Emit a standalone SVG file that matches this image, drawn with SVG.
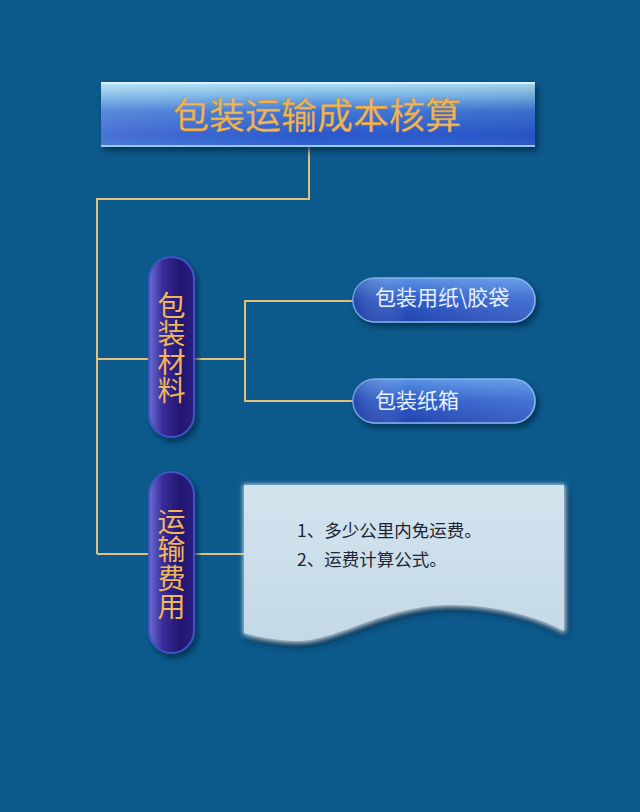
<svg xmlns="http://www.w3.org/2000/svg" width="640" height="812" viewBox="0 0 640 812">
<defs>
<style>
.cn{font-family:"Noto Sans CJK SC","Noto Sans",sans-serif;}
.gold{fill:#efb65a;}
.line{fill:none;stroke:#e2c07a;stroke-width:2;}
.vt{font-size:28px;writing-mode:vertical-rl;letter-spacing:0.5px;}
.pt{font-size:21px;fill:#e6f2ff;}
.dt{font-size:17.5px;fill:#1e2433;}
</style>
<linearGradient id="gTitle" x1="0" y1="0" x2="0" y2="1">
<stop offset="0" stop-color="#b4e2f6"/>
<stop offset="0.2" stop-color="#7ab6e6"/>
<stop offset="0.45" stop-color="#3c74d4"/>
<stop offset="0.8" stop-color="#2a58cc"/>
<stop offset="1" stop-color="#2e62d0"/>
</linearGradient>
<linearGradient id="gTitleH" x1="0" y1="0" x2="1" y2="0">
<stop offset="0" stop-color="#ffffff" stop-opacity="0.15"/>
<stop offset="0.5" stop-color="#ffffff" stop-opacity="0"/>
<stop offset="1" stop-color="#000000" stop-opacity="0.05"/>
</linearGradient>
<linearGradient id="gVert" x1="0" y1="0" x2="1" y2="0">
<stop offset="0" stop-color="#6c6ed2"/>
<stop offset="0.3" stop-color="#3a2c9a"/>
<stop offset="0.7" stop-color="#231670"/>
<stop offset="1" stop-color="#2a1e80"/>
</linearGradient>
<linearGradient id="gPill" x1="0" y1="0" x2="0" y2="1">
<stop offset="0" stop-color="#5a92e4"/>
<stop offset="0.5" stop-color="#2c5ac8"/>
<stop offset="1" stop-color="#2244b0"/>
</linearGradient>
<linearGradient id="gPillH" x1="0" y1="0" x2="1" y2="0">
<stop offset="0" stop-color="#1a2a80" stop-opacity="0.35"/>
<stop offset="0.3" stop-color="#ffffff" stop-opacity="0"/>
<stop offset="1" stop-color="#a0d0ff" stop-opacity="0.2"/>
</linearGradient>
<linearGradient id="gDoc" x1="0" y1="0" x2="0" y2="1">
<stop offset="0" stop-color="#d2e4ee"/>
<stop offset="1" stop-color="#c4d9e6"/>
</linearGradient>
<filter id="shadow" x="-10%" y="-20%" width="125%" height="150%">
<feGaussianBlur in="SourceAlpha" stdDeviation="3"/>
<feOffset dx="3" dy="4" result="b"/>
<feFlood flood-color="#022a48" flood-opacity="0.8"/>
<feComposite in2="b" operator="in"/>
<feMerge><feMergeNode/><feMergeNode in="SourceGraphic"/></feMerge>
</filter>
<filter id="glow" x="-10%" y="-10%" width="125%" height="130%">
<feGaussianBlur in="SourceAlpha" stdDeviation="4"/>
<feOffset dx="3" dy="5" result="b"/>
<feFlood flood-color="#02243e" flood-opacity="0.85"/>
<feComposite in2="b" operator="in" result="sh"/>
<feMorphology in="SourceAlpha" operator="dilate" radius="1" result="d"/>
<feGaussianBlur in="d" stdDeviation="2" result="g"/>
<feFlood flood-color="#e8f6ff" flood-opacity="0.7"/>
<feComposite in2="g" operator="in" result="gl"/>
<feMerge><feMergeNode in="sh"/><feMergeNode in="gl"/><feMergeNode in="SourceGraphic"/></feMerge>
</filter>
</defs>
<rect x="0" y="0" width="640" height="812" fill="#0c5a8c"/>

<g id="connectors">
<polyline class="line" points="309,147 309,199 97,199 97,554"/>
<line class="line" x1="97" y1="359" x2="149" y2="359"/>
<line class="line" x1="194" y1="359" x2="245" y2="359"/>
<polyline class="line" points="353,301 245,301 245,401 353,401"/>
<line class="line" x1="97" y1="554" x2="149" y2="554"/>
<line class="line" x1="194" y1="554" x2="246" y2="554"/>
</g>

<g id="title">
<rect x="101" y="82" width="434" height="65" fill="url(#gTitle)" filter="url(#shadow)"/>
<rect x="101" y="82" width="434" height="65" fill="url(#gTitleH)"/>
<line x1="101" y1="83" x2="535" y2="83" stroke="#d8f2ff" stroke-width="2"/>
<line x1="101" y1="146" x2="535" y2="146" stroke="#9cc8f0" stroke-width="2"/>
<text class="cn gold" x="317" y="129" font-size="36" text-anchor="middle" stroke="#c89040" stroke-width="0.4">包装运输成本核算</text>
</g>

<g id="materials">
<rect x="149" y="257" width="45" height="180" rx="22.5" fill="url(#gVert)" stroke="#3f56c8" stroke-width="2" filter="url(#shadow)"/>
<text class="cn gold vt" x="171.5" y="291">包装材料</text>
</g>

<g id="paper-bag">
<rect x="353" y="278" width="182" height="44" rx="22" fill="url(#gPill)" stroke="#7fb2f0" stroke-width="1.5" filter="url(#shadow)"/>
<rect x="353" y="278" width="182" height="44" rx="22" fill="url(#gPillH)"/>
<text class="cn pt" x="375" y="305">包装用纸\胶袋</text>
</g>

<g id="carton">
<rect x="353" y="379" width="182" height="44" rx="22" fill="url(#gPill)" stroke="#7fb2f0" stroke-width="1.5" filter="url(#shadow)"/>
<rect x="353" y="379" width="182" height="44" rx="22" fill="url(#gPillH)"/>
<text class="cn pt" x="375" y="408">包装纸箱</text>
</g>

<g id="shipping">
<rect x="149" y="472" width="45" height="181" rx="22.5" fill="url(#gVert)" stroke="#3f56c8" stroke-width="2" filter="url(#shadow)"/>
<text class="cn gold vt" x="171.5" y="507">运输费用</text>
</g>

<g id="shipping-doc">
<path d="M244,485 H564 V631 C530,612 470,600 423,607 C370,615 330,642 295,641 C270,640 255,636 244,633 Z" fill="url(#gDoc)" filter="url(#glow)"/>
<text class="cn dt" x="297" y="537">1、多少公里内免运费。</text>
<text class="cn dt" x="297" y="566">2、运费计算公式。</text>
</g>
</svg>
